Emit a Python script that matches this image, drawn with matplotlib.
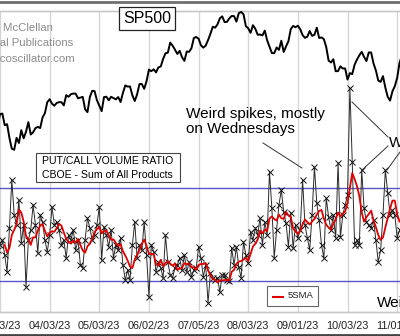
import matplotlib
matplotlib.use('Agg')
import matplotlib.pyplot as plt
import numpy as np
import pandas as pd
from matplotlib.lines import Line2D
from matplotlib.patches import Rectangle

plt.rcParams['font.family'] = ['Liberation Sans', 'DejaVu Sans']

# ---- data (trading days from 03/01/23) ----
sp500 = [
    3951.39, 3981.35, 4045.64, 4048.42, 3986.37, 3992.01, 3918.32, 3861.59, 3855.76, 3919.29,
    3891.93, 3960.28, 3916.64, 3951.57, 4002.87, 3936.97, 3948.72, 3970.99, 3977.53, 3971.27,
    4027.81, 4050.83, 4109.31,
    4124.51, 4100.60, 4090.38, 4105.02, 4109.11, 4108.94, 4091.95, 4146.22, 4137.64, 4151.32,
    4154.87, 4154.52, 4129.79, 4133.52, 4137.04, 4071.63, 4055.99, 4135.35, 4169.48,
    4167.87, 4119.58, 4090.75, 4061.22, 4136.25, 4138.12, 4119.17, 4137.64, 4130.62, 4124.08,
    4136.28, 4109.90, 4158.77, 4198.05, 4191.98, 4192.63, 4145.58, 4115.24, 4151.28, 4205.45,
    4205.52, 4179.83,
    4221.02, 4282.37, 4273.79, 4283.85, 4267.52, 4293.93, 4298.86, 4338.93, 4369.01, 4372.59,
    4425.84, 4409.59, 4388.71, 4365.69, 4381.89, 4348.33, 4328.82, 4378.41, 4376.86, 4396.44,
    4450.38,
    4455.59, 4446.82, 4411.59, 4398.95, 4409.53, 4439.26, 4472.16, 4510.04, 4505.42, 4522.79,
    4554.98, 4565.72, 4534.87, 4536.34, 4554.64, 4567.46, 4566.75, 4537.41, 4582.23, 4588.96,
    4576.73, 4513.39, 4501.89, 4478.03, 4518.44, 4499.38, 4467.71, 4468.83, 4464.05, 4489.72,
    4437.86, 4404.33, 4370.36, 4369.71, 4399.77, 4387.55, 4436.01, 4376.31, 4405.71, 4433.31,
    4497.63, 4514.87, 4507.66,
    4515.77, 4496.83, 4465.48, 4451.14, 4457.49, 4487.46, 4461.90, 4467.44, 4505.10, 4450.32,
    4453.53, 4443.95, 4402.20, 4330.00, 4320.06, 4337.44, 4273.53, 4274.51, 4299.70, 4288.05,
    4288.39, 4229.45, 4263.75, 4258.19, 4308.50, 4335.66, 4358.24, 4376.95, 4349.61, 4327.78,
    4373.63, 4373.20, 4314.60, 4278.00, 4224.16, 4217.04, 4247.68, 4186.77, 4137.23, 4117.37,
    4166.82, 4193.80,
    4237.86, 4317.78, 4358.34,
]

pc_ratio = [
    0.948, 0.900, 0.916, 0.932, 0.884, 0.829, 0.971, 1.126, 1.013, 0.981,
    1.061, 0.923, 0.981, 0.781, 0.932, 0.965, 1.045, 0.981, 0.890, 1.013,
    0.990, 0.932, 0.894, 0.948, 1.039, 0.981, 0.990, 0.965, 0.916, 0.932,
    0.874, 0.948, 0.932, 0.965, 0.900, 0.932, 0.852, 0.842, 0.932, 1.003,
    0.971, 0.932, 0.948, 0.981, 1.039, 0.868, 0.974, 0.948, 0.910, 0.965,
    0.874, 0.916, 0.900, 0.939, 0.852, 0.803, 0.835, 0.803, 0.916, 0.990,
    0.874, 0.916, 0.900, 0.990, 0.884, 0.748, 0.916, 0.894, 0.829, 0.861,
    0.842, 0.810, 0.948, 0.861, 0.819, 0.810, 0.842, 0.852, 0.874, 0.835,
    0.884, 0.829, 0.861, 0.813, 0.835, 0.842, 0.910, 0.874, 0.813, 0.852,
    0.729, 0.826, 0.810, 0.803, 0.810, 0.765, 0.820, 0.819, 0.803, 0.800,
    0.906, 0.852, 0.910, 0.845, 0.810, 0.926, 0.884, 0.858, 0.958, 0.932,
    0.971, 0.948, 1.003, 0.916, 0.990, 0.948, 1.152, 1.035, 0.874, 0.965,
    1.045, 1.094, 1.023, 0.987, 0.910, 1.019, 0.906, 0.981, 0.939, 0.965,
    1.126, 0.981, 0.939, 0.900, 1.013, 1.168, 1.052, 0.997, 0.916, 0.874,
    1.068, 1.006, 0.965, 1.013, 0.939, 1.181, 0.942, 1.013, 1.045, 1.077,
    1.423, 1.184, 0.916, 0.932, 0.916, 1.158, 1.035, 0.990, 0.981, 0.971,
    0.997, 0.932, 0.861, 0.900, 1.013, 1.158, 1.084, 1.013, 1.029, 1.013,
    0.939, 0.965,
]

tick_pos = [2, 23, 44, 65, 86, 107, 128, 149, 170]
tick_labels = ['03/03/23', '04/03/23', '05/03/23', '06/02/23', '07/05/23',
               '08/03/23', '09/01/23', '10/03/23', '11/01/23']
band_levels = [1.10, 0.80]
sma_window = 5

# ---- figure ----
W, H = 400, 336
fig = plt.figure(figsize=(W / 100, H / 100), dpi=100)
fig.patch.set_facecolor('white')

def fx(x):
    return x / W

def fy(y):
    return 1 - y / H

ax = fig.add_axes([0, fy(312), 1, (312 - 11) / H])
ax2 = ax.twinx()

x_sp = np.arange(len(sp500))
x_pc = np.arange(len(pc_ratio))
sma = pd.Series(pc_ratio).rolling(sma_window).mean()

# put/call panel
for lvl in band_levels:
    ax.axhline(lvl, color='#5656c8', lw=1.0, zorder=2)
ax.plot(x_pc, pc_ratio, color='#2a2a2a', lw=0.7, marker='x', ms=4.5,
        mew=0.7, mec='#111111', zorder=3)
ax.plot(x_pc, sma, color='#e00000', lw=1.3, zorder=4)

# SP500 panel
ax2.plot(x_sp, sp500, color='black', lw=1.4, zorder=5)

ax.set_xlim(4.58, 171.2)
ax.set_ylim(0.700, 1.671)
ax2.set_ylim(2993, 4594)

ax.set_xticks(tick_pos)
ax.set_xticklabels(tick_labels, fontsize=7.8, color='#222222')
ax.tick_params(axis='x', length=0, pad=6.5)
ax.set_yticks([])
ax2.set_yticks([])
ax.grid(axis='x', color='#d6d6d6', lw=1.0, zorder=0)
ax.set_axisbelow(True)

for a in (ax, ax2):
    a.spines['left'].set_visible(False)
    a.spines['right'].set_visible(False)
    a.spines['top'].set_color('#c8c8c8')
    a.spines['bottom'].set_color('#c8c8c8')
    a.spines['top'].set_linewidth(1.0)
    a.spines['bottom'].set_linewidth(1.0)

# frame lines of the original figure
fig.add_artist(Line2D([0, 1], [fy(1.5), fy(1.5)], transform=fig.transFigure,
                      color='#6e6e6e', lw=2.0))
fig.add_artist(Line2D([0, 1], [fy(334.5), fy(334.5)], transform=fig.transFigure,
                      color='#444444', lw=2.0))

# titles / boxes
fig.text(fx(147), fy(18.5), 'SP500', fontsize=11.5, ha='center', va='center',
         bbox=dict(boxstyle='square,pad=0.25', fc='white', ec='#222222', lw=0.9))

for txt, yy in [('© 2023 McClellan', 28), ('Financial Publications', 43.5),
                ('www.mcoscillator.com', 59)]:
    fig.text(fx(-37), fy(yy), txt, fontsize=8.2, color='#8c8c8c', ha='left', va='center')

fig.add_artist(Rectangle((fx(36), fy(182)), fx(180) - fx(36), fy(153) - fy(182),
                         transform=fig.transFigure, fc='white', ec='#444444', lw=0.8))
fig.text(fx(41.5), fy(161.5), 'PUT/CALL VOLUME RATIO', fontsize=7.6, ha='left', va='center')
fig.text(fx(41.5), fy(174.5), 'CBOE - Sum of All Products', fontsize=7.6, ha='left', va='center')

fig.text(fx(186), fy(121.5), 'Weird spikes, mostly\non Wednesdays', fontsize=11,
         ha='left', va='center', linespacing=1.05)
fig.text(fx(389), fy(143), 'Weird', fontsize=11, ha='left', va='center')
fig.text(fx(377), fy(303), 'Weird', fontsize=11, ha='left', va='center')

for (x1, y1, x2, y2) in [(263, 143, 302, 168), (352, 102, 388, 137),
                          (388, 146, 362, 170), (400, 152, 387, 170)]:
    fig.add_artist(Line2D([fx(x1), fx(x2)], [fy(y1), fy(y2)], transform=fig.transFigure,
                          color='#333333', lw=0.7))

# legend
fig.add_artist(Rectangle((fx(267), fy(306)), fx(318) - fx(267), fy(286) - fy(306),
                         transform=fig.transFigure, fc='white', ec='#666666', lw=0.8))
fig.add_artist(Line2D([fx(273), fx(283)], [fy(296.5), fy(296.5)], transform=fig.transFigure,
                      color='#e00000', lw=1.5))
fig.text(fx(288), fy(296), '5SMA', fontsize=6.8, ha='left', va='center', color='#222222')

fig.savefig('out.png', dpi=100, facecolor='white')
